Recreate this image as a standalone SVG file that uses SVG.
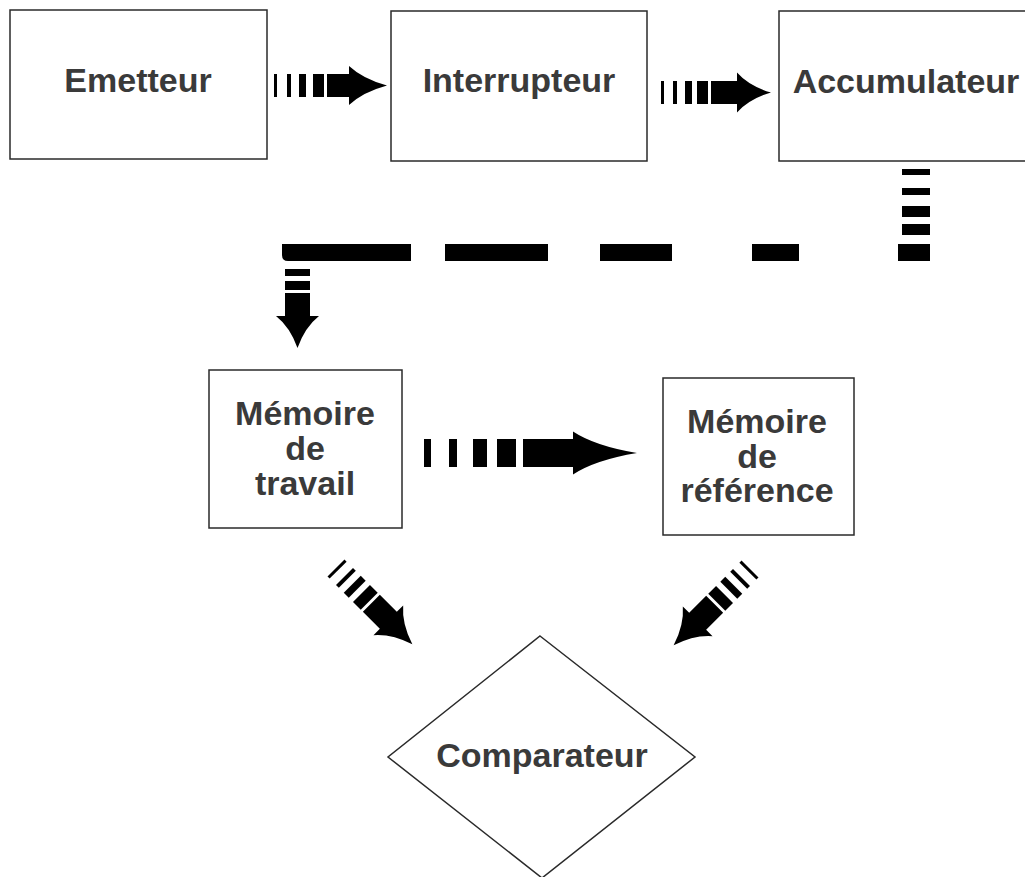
<svg xmlns="http://www.w3.org/2000/svg" width="1025" height="877" viewBox="0 0 1025 877">
  <style>
    .box { fill: #ffffff; stroke: #2a2a2a; stroke-width: 1.5; }
    .label { font-family: "Liberation Sans", Arial, sans-serif; font-weight: bold; font-size: 34px; fill: #3a3a3a; text-anchor: middle; }
    .ink { fill: #000000; }
  </style>
  <rect width="1025" height="877" fill="#ffffff"/>

  <!-- nodes -->
  <g id="emetteur">
    <rect class="box" x="10" y="10" width="257" height="149"/>
    <text class="label" x="138" y="92">Emetteur</text>
  </g>
  <g id="interrupteur">
    <rect class="box" x="391" y="11" width="256" height="150"/>
    <text class="label" x="519" y="92">Interrupteur</text>
  </g>
  <g id="accumulateur">
    <rect class="box" x="779" y="11" width="256" height="150"/>
    <text class="label" x="906" y="93">Accumulateur</text>
  </g>
  <g id="memoire-travail">
    <rect class="box" x="209" y="370" width="193" height="158"/>
    <text class="label"><tspan x="305" y="425">Mémoire</tspan><tspan x="305" y="460">de</tspan><tspan x="305" y="495">travail</tspan></text>
  </g>
  <g id="memoire-reference">
    <rect class="box" x="663" y="378" width="191" height="157"/>
    <text class="label"><tspan x="757" y="433">Mémoire</tspan><tspan x="757" y="468">de</tspan><tspan x="757" y="502">référence</tspan></text>
  </g>
  <g id="comparateur">
    <polygon class="box" points="540,636 695,757 542,878 388,757"/>
    <text class="label" x="542" y="767">Comparateur</text>
  </g>

  <!-- connectors: striped block arrows -->
  <g id="connectors" class="ink">
    <!-- Emetteur to Interrupteur -->
    <g transform="translate(274,85.5)">
      <rect x="0" y="-11.5" width="3" height="23"/>
      <rect x="13" y="-11.5" width="4" height="23"/>
      <rect x="25" y="-11.5" width="7" height="23"/>
      <rect x="39" y="-11.5" width="11" height="23"/>
      <path d="M53,-11.5 H75 V-19.5 Q89,-6.5 113,0 Q89,6.5 75,19.5 V11.5 H53 Z"/>
    </g>
    <!-- Interrupteur to Accumulateur -->
    <g transform="translate(661,92.5)">
      <rect x="0" y="-11.5" width="3" height="23"/>
      <rect x="12" y="-11.5" width="4" height="23"/>
      <rect x="24" y="-11.5" width="7" height="23"/>
      <rect x="36" y="-11.5" width="11" height="23"/>
      <path d="M50,-11.5 H76 V-20 Q88,-6.5 110,0 Q88,6.5 76,20 V11.5 H50 Z"/>
    </g>
    <!-- Accumulateur down, across, and down to Mémoire de travail -->
    <g>
      <rect x="902" y="169" width="28" height="6"/>
      <rect x="902" y="188" width="28" height="7"/>
      <rect x="902" y="206" width="28" height="11"/>
      <rect x="902" y="224" width="28" height="11"/>
      <rect x="898" y="244" width="32" height="17"/>
      <rect x="752" y="244" width="47" height="17"/>
      <rect x="600" y="244" width="72" height="17"/>
      <rect x="445" y="244" width="103" height="17"/>
      <path d="M282,244 H411 V261 H288 Q282,261 282,255 Z"/>
      <rect x="285" y="269" width="25" height="7"/>
      <rect x="285" y="281" width="25" height="9"/>
      <path d="M285,293 H310 V316 H319 Q305,327 297.5,348 Q290,327 276,316 H285 Z"/>
    </g>
    <!-- Mémoire de travail to Mémoire de référence -->
    <g transform="translate(424,453)">
      <rect x="0" y="-14" width="7" height="28"/>
      <rect x="25" y="-14" width="8" height="28"/>
      <rect x="49" y="-14" width="14" height="28"/>
      <rect x="73" y="-14" width="19" height="28"/>
      <path d="M99,-14 H149 V-21.5 Q171,-7 213,0 Q171,7 149,21.5 V14 H99 Z"/>
    </g>
    <!-- Mémoire de travail to Comparateur -->
    <g transform="translate(336,568) rotate(45)">
      <rect x="0" y="-12" width="3" height="24"/>
      <rect x="12" y="-12" width="4" height="24"/>
      <rect x="23" y="-12" width="7" height="24"/>
      <rect x="36" y="-12" width="11" height="24"/>
      <path d="M50,-12 H74 V-21 Q86,-7 108,0 Q86,7 74,21 V12 H50 Z"/>
    </g>
    <!-- Mémoire de référence to Comparateur -->
    <g transform="translate(750,569) rotate(135)">
      <rect x="0" y="-12" width="3" height="24"/>
      <rect x="12" y="-12" width="4" height="24"/>
      <rect x="23" y="-12" width="7" height="24"/>
      <rect x="36" y="-12" width="11" height="24"/>
      <path d="M50,-12 H74 V-21 Q86,-7 108,0 Q86,7 74,21 V12 H50 Z"/>
    </g>
  </g>
</svg>
